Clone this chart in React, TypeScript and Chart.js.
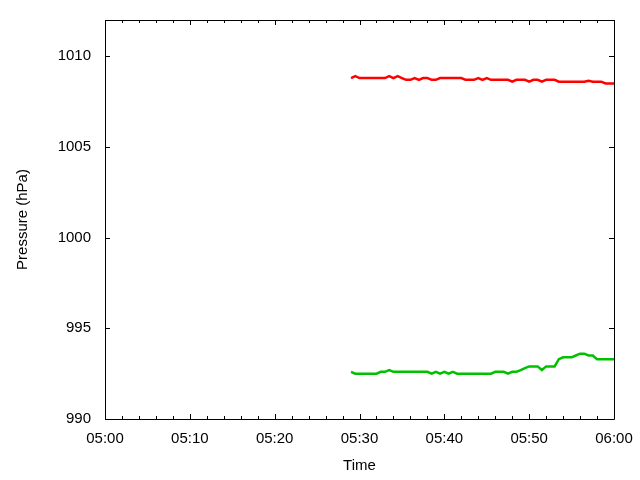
import React, { useEffect, useRef } from "react";
import { Chart, registerables } from "chart.js";

Chart.register(...registerables);

// minutes after 05:00
const minutes = [
  29.0, 29.5, 30.0, 30.5, 31.0, 31.5, 32.0, 32.5, 33.0, 33.5, 34.0, 34.5, 35.0, 35.5, 36.0, 36.5,
  37.0, 37.5, 38.0, 38.5, 39.0, 39.5, 40.0, 40.5, 41.0, 41.5, 42.0, 42.5, 43.0, 43.5, 44.0, 44.5,
  45.0, 45.5, 46.0, 46.5, 47.0, 47.5, 48.0, 48.5, 49.0, 49.5, 50.0, 50.5, 51.0, 51.5, 52.0, 52.5,
  53.0, 53.5, 54.0, 54.5, 55.0, 55.5, 56.0, 56.5, 57.0, 57.5, 58.0, 58.5, 59.0, 59.5, 60.0,
];

const redPressure = [
  1008.8, 1008.9, 1008.8, 1008.8, 1008.8, 1008.8, 1008.8, 1008.8, 1008.8, 1008.9, 1008.8, 1008.9, 1008.8, 1008.7, 1008.7, 1008.8,
  1008.7, 1008.8, 1008.8, 1008.7, 1008.7, 1008.8, 1008.8, 1008.8, 1008.8, 1008.8, 1008.8, 1008.7, 1008.7, 1008.7, 1008.8, 1008.7,
  1008.8, 1008.7, 1008.7, 1008.7, 1008.7, 1008.7, 1008.6, 1008.7, 1008.7, 1008.7, 1008.6, 1008.7, 1008.7, 1008.6, 1008.7, 1008.7,
  1008.7, 1008.6, 1008.6, 1008.6, 1008.6, 1008.6, 1008.6, 1008.6, 1008.65, 1008.6, 1008.6, 1008.6, 1008.5, 1008.5, 1008.5,
];

const greenPressure = [
  992.6, 992.5, 992.5, 992.5, 992.5, 992.5, 992.5, 992.6, 992.6, 992.7, 992.6, 992.6, 992.6, 992.6, 992.6, 992.6,
  992.6, 992.6, 992.6, 992.5, 992.6, 992.5, 992.6, 992.5, 992.6, 992.5, 992.5, 992.5, 992.5, 992.5, 992.5, 992.5,
  992.5, 992.5, 992.6, 992.6, 992.6, 992.5, 992.6, 992.6, 992.7, 992.8, 992.9, 992.9, 992.9, 992.7, 992.9, 992.9,
  992.9, 993.3, 993.4, 993.4, 993.4, 993.5, 993.6, 993.6, 993.5, 993.5, 993.3, 993.3, 993.3, 993.3, 993.3,
];

const xTickLabels = ["05:00", "05:10", "05:20", "05:30", "05:40", "05:50", "06:00"];
const yTickValues = [990, 995, 1000, 1005, 1010];

const FONT = "'Liberation Sans', Arial, sans-serif";
const FONT_SIZE = 15;

const zeroPadding = (s: any) => {
  s.paddingTop = 0;
  s.paddingBottom = 0;
  s.paddingLeft = 0;
  s.paddingRight = 0;
};

const framePlugin = {
  id: "gnuFrame",
  afterDraw(chart: any) {
    const { ctx, chartArea } = chart;
    const { left, right, top, bottom } = chartArea;
    const xs = chart.scales.x;
    const ys = chart.scales.y;
    ctx.save();
    ctx.strokeStyle = "#000";
    ctx.lineWidth = 1;
    ctx.beginPath();
    ctx.rect(Math.round(left) + 0.5, Math.round(top) + 0.5, Math.round(right - left), Math.round(bottom - top));
    ctx.stroke();
    ctx.beginPath();
    for (let m = 0; m <= 60; m += 2) {
      const px = Math.round(xs.getPixelForValue(m)) + 0.5;
      const len = m % 10 === 0 ? 5 : 3;
      ctx.moveTo(px, bottom);
      ctx.lineTo(px, bottom - len);
      ctx.moveTo(px, top);
      ctx.lineTo(px, top + len);
    }
    for (const v of yTickValues) {
      const py = Math.round(ys.getPixelForValue(v)) + 0.5;
      ctx.moveTo(left, py);
      ctx.lineTo(left + 5, py);
      ctx.moveTo(right, py);
      ctx.lineTo(right - 5, py);
    }
    ctx.stroke();
    ctx.restore();
  },
};

export default function App() {
  const ref = useRef<HTMLCanvasElement | null>(null);
  useEffect(() => {
    if (!ref.current) return;
    const chart = new Chart(ref.current, {
      type: "line",
      data: {
        datasets: [
          {
            label: "red",
            data: minutes.map((m, i) => ({ x: m, y: redPressure[i] })),
            borderColor: "#ff0000",
            borderWidth: 2.5,
            pointRadius: 0,
            tension: 0,
          },
          {
            label: "green",
            data: minutes.map((m, i) => ({ x: m, y: greenPressure[i] })),
            borderColor: "#00c000",
            borderWidth: 2.5,
            pointRadius: 0,
            tension: 0,
          },
        ],
      },
      options: {
        animation: false,
        responsive: false,
        devicePixelRatio: 1,
        layout: { autoPadding: false, padding: { left: 0, right: 26, top: 20, bottom: 0 } },
        plugins: { legend: { display: false }, tooltip: { enabled: false } },
        scales: {
          x: {
            type: "linear",
            min: 0,
            max: 60,
            grid: { display: false, drawTicks: false },
            border: { display: false },
            ticks: {
              stepSize: 10,
              padding: 11,
              color: "#000",
              font: { family: FONT, size: FONT_SIZE },
              maxRotation: 0,
              callback: (v: any) => xTickLabels[Math.round(Number(v) / 10)] ?? "",
            },
            title: {
              display: true,
              text: "Time",
              color: "#000",
              font: { family: FONT, size: FONT_SIZE },
              padding: { top: 0, bottom: 5 },
            },
            afterFit: (s: any) => {
              s.height = 61;
              zeroPadding(s);
            },
          },
          y: {
            type: "linear",
            min: 990,
            max: 1012,
            grid: { display: false, drawTicks: false },
            border: { display: false },
            ticks: {
              stepSize: 5,
              includeBounds: false,
              padding: 14,
              color: "#000",
              font: { family: FONT, size: FONT_SIZE },
              callback: (v: any) => String(v),
            },
            afterBuildTicks: (s: any) => {
              s.ticks = yTickValues.map((v) => ({ value: v }));
            },
            title: {
              display: true,
              text: "Pressure (hPa)",
              color: "#000",
              font: { family: FONT, size: FONT_SIZE },
              padding: { top: 14, bottom: 0 },
            },
            afterFit: (s: any) => {
              s.width = 105;
              zeroPadding(s);
            },
          },
        },
      },
      plugins: [framePlugin],
    });
    return () => chart.destroy();
  }, []);
  return (
    <div style={{ position: "absolute", left: 0, top: 0, width: 640, height: 480, background: "#fff" }}>
      <canvas ref={ref} width={640} height={480} />
    </div>
  );
}
